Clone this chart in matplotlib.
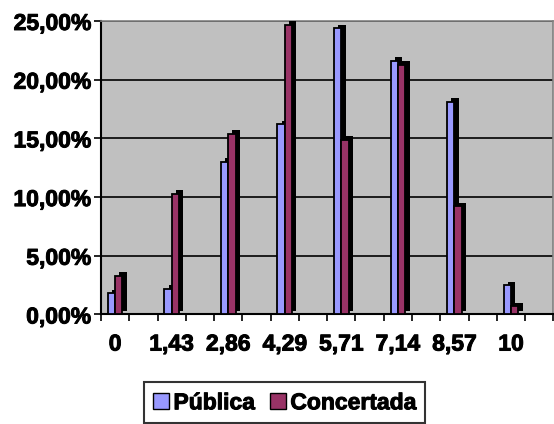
import matplotlib.pyplot as plt
import matplotlib.patheffects as pe
import numpy as np
from matplotlib.ticker import FuncFormatter, MultipleLocator

plt.rcParams['font.family'] = 'Liberation Sans'
plt.rcParams['font.weight'] = 'bold'

labels = ['0', '1,43', '2,86', '4,29', '5,71', '7,14', '8,57', '10']
publica = [1.8, 2.2, 13.0, 16.2, 24.4, 21.6, 18.1, 2.5]
concertada = [3.3, 10.3, 15.4, 24.7, 14.9, 21.25, 9.2, 0.7]

blue = '#9999FF'
red = '#993366'
heavy = [pe.withStroke(linewidth=0.7, foreground='black')]

fig = plt.figure(figsize=(5.54, 4.24), dpi=100)
ax = fig.add_axes([0.1823, 0.2583, 0.8167, 0.6922])
ax.set_facecolor('#C0C0C0')

# 16 category slots, labelled every other one
pos = np.arange(len(labels)) * 2 + 0.5
w = 0.26
dx, dy = 0.15, 0.3

ax.bar(pos - w + dx, publica, w, bottom=dy, color='black', align='edge', zorder=2)
ax.bar(pos - w, publica, w, color=blue, edgecolor='black', linewidth=1.3, align='edge', zorder=3)
ax.bar(pos + dx, concertada, w, bottom=dy, color='black', align='edge', zorder=4)
ax.bar(pos, concertada, w, color=red, edgecolor='black', linewidth=1.3, align='edge', zorder=5)

ax.set_xlim(0, 16)
ax.set_ylim(0, 25)
ax.yaxis.set_major_locator(MultipleLocator(5))
ax.yaxis.set_major_formatter(FuncFormatter(lambda v, p: ('%.2f%%' % v).replace('.', ',')))
ax.grid(axis='y', color='black', linewidth=1.2, zorder=1)
ax.set_axisbelow(True)

ax.set_xticks(np.arange(0, 17))
ax.set_xticklabels([])
ax.set_xticks(pos, labels, minor=True)
ax.tick_params(axis='x', which='minor', length=0, pad=13, labelsize=16.5)
ax.tick_params(axis='x', which='major', length=5, width=1.2, direction='out')
ax.tick_params(axis='y', length=5, width=1.2, labelsize=16.5, pad=2)
for t in ax.get_yticklabels() + ax.get_xticklabels(minor=True):
    t.set_path_effects(heavy)

for s in ['left', 'bottom']:
    ax.spines[s].set_color('black')
    ax.spines[s].set_linewidth(1.5)
for s in ['top', 'right']:
    ax.spines[s].set_color('#808080')
    ax.spines[s].set_linewidth(1.2)

leg = fig.legend(['Pública', 'Concertada'], loc='center', bbox_to_anchor=(0.513, 0.05),
                 ncol=2, frameon=True, fancybox=False, edgecolor='black',
                 handlelength=0.7, handleheight=0.7, handletextpad=0.2,
                 columnspacing=0.65, borderpad=0.4,
                 prop={'size': 16.5, 'weight': 'bold'})
leg.get_frame().set_linewidth(1.5)
leg.get_frame().set_edgecolor('black')
for t in leg.get_texts():
    t.set_path_effects(heavy)
handles = leg.legend_handles
for h in handles:
    h.set_edgecolor('black')
    h.set_linewidth(1)
handles[0].set_facecolor(blue)
handles[1].set_facecolor(red)

fig.savefig('out.png', dpi=100)
